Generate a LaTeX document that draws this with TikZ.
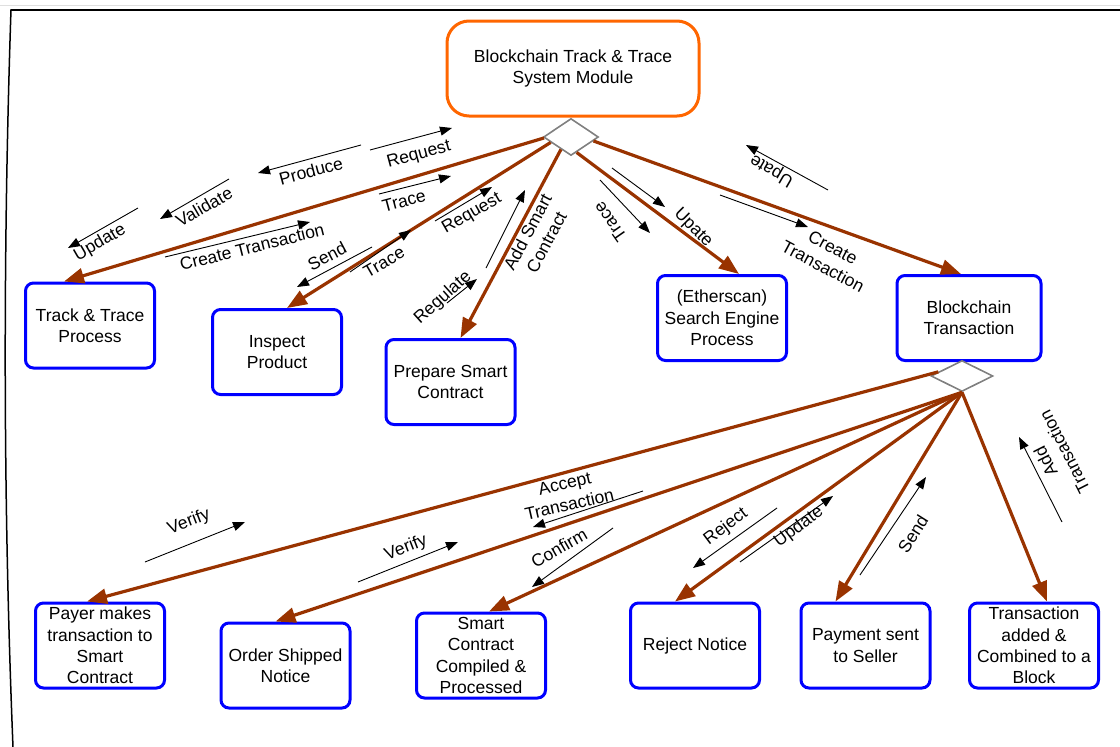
\documentclass[tikz,border=0pt]{standalone}
\usepackage{fontspec}
\setmainfont{Liberation Sans}
\usetikzlibrary{arrows.meta,shapes.geometric,calc}
\definecolor{flowc}{RGB}{153,51,0}
\definecolor{boxblue}{RGB}{0,0,255}
\definecolor{orangec}{RGB}{255,102,0}
\begin{document}
\begin{tikzpicture}[x=1pt,y=-1pt,
  every node/.style={font=\fontsize{17.5}{21.3}\selectfont},
  box/.style={draw=boxblue, line width=3pt, rounded corners=8pt, minimum width=129pt, minimum height=85pt, align=center, inner sep=0pt, fill=white},
  topbox/.style={draw=orangec, line width=3pt, rounded corners=22pt, minimum width=252pt, minimum height=95pt, align=center, inner sep=0pt, fill=white},
  dia/.style={diamond, draw=gray, line width=1.6pt, inner sep=0pt, fill=white},
  flow/.style={draw=flowc, line width=3.2pt, -{Triangle[length=20pt,width=15pt]}},
  lab/.style={line width=0.9pt, -{Triangle[length=12pt,width=9pt]}},
  lbl/.style={inner sep=0pt, align=center},
]
\useasboundingbox (0,0) rectangle (1120,747);
% frame
\draw[gray!25, line width=1pt] (0,5) -- (1120,5);
\draw[line width=2pt] (11,9.5) -- (1120,9.5);
\draw[line width=1.5pt] (11,9.5) .. controls (3,250) and (3,500) .. (13,747);

% nodes
\node[topbox] (top) at (573,68.5) {Blockchain Track \& Trace\\System Module};
\node[dia, minimum width=55pt, minimum height=37pt] (d1) at (571,137) {};
\node[box] (tt) at (90,325.5) {Track \& Trace\\Process};
\node[box] (ip) at (277,352) {Inspect\\Product};
\node[box] (ps) at (450.5,382) {Prepare Smart\\Contract};
\node[box] (es) at (722,318) {(Etherscan)\\Search Engine\\Process};
\node[box, minimum width=144pt] (bt) at (969,318) {Blockchain\\Transaction};
\node[dia, minimum width=62pt, minimum height=31pt] (d2) at (962,376) {};
\node[box] (pm) at (100,645.5) {Payer makes\\transaction to\\Smart\\Contract};
\node[box] (os) at (285.5,665.5) {Order Shipped\\Notice};
\node[box] (sc) at (481,655.5) {Smart\\Contract\\Compiled \&\\Processed};
\node[box] (rn) at (695,645.5) {Reject Notice};
\node[box] (pay) at (865.5,645.5) {Payment sent\\to Seller};
\node[box] (ta) at (1034,645.5) {Transaction\\added \&\\Combined to a\\Block};

% main flows
\draw[flow] (d1.182) -- ([xshift=-26pt]tt.north);
\draw[flow] (d1.195) -- ([xshift=10pt]ip.north);
\draw[flow] (d1.231) -- ([xshift=10pt]ps.north);
\draw[flow] (d1.290) -- ([xshift=17pt]es.north);
\draw[flow] (d1.350) -- ([xshift=-8pt]bt.north);
\draw[flow] (d2.170) -- ([xshift=-13pt]pm.north);
\draw[flow] (d2.south) -- ([xshift=-10pt]os.north);
\draw[flow] (d2.south) -- ([xshift=8pt]sc.north);
\draw[flow] (d2.south) -- ([xshift=-20pt]rn.north);
\draw[flow] (d2.south) -- ([xshift=-30pt]pay.north);
\draw[flow] (d2.south) -- ([xshift=13pt]ta.north);

% label arrow end points
\coordinate (a1s) at (138,208);  \coordinate (a1e) at (68,248);
\coordinate (a2s) at (229,179);  \coordinate (a2e) at (160,219);
\coordinate (a3s) at (361,145);  \coordinate (a3e) at (258,173);
\coordinate (a4s) at (370,150);  \coordinate (a4e) at (452,128);
\coordinate (a5s) at (379,194);  \coordinate (a5e) at (451,176);
\coordinate (a6s) at (165,257);  \coordinate (a6e) at (310,222);
\coordinate (a7s) at (372,247);  \coordinate (a7e) at (297,287);
\coordinate (a8s) at (350,272);  \coordinate (a8e) at (411,230);
\coordinate (a9s) at (435,221);  \coordinate (a9e) at (492,187);
\coordinate (a10s) at (486,268); \coordinate (a10e) at (525,190);
\coordinate (a11s) at (447,303); \coordinate (a11e) at (477,279);
\coordinate (a12s) at (600,180); \coordinate (a12e) at (650,233);
\coordinate (a13s) at (612,168); \coordinate (a13e) at (665,207);
\coordinate (a14s) at (828,190); \coordinate (a14e) at (746,145);
\coordinate (a15s) at (720,195); \coordinate (a15e) at (808,227);
\coordinate (b1s) at (145,562);  \coordinate (b1e) at (245,522);
\coordinate (b2s) at (358,582);  \coordinate (b2e) at (458,542);
\coordinate (b3s) at (643,491);  \coordinate (b3e) at (533,527);
\coordinate (b4s) at (613,528);  \coordinate (b4e) at (532,587);
\coordinate (b5s) at (777,508);  \coordinate (b5e) at (693,568);
\coordinate (b6s) at (740,562);  \coordinate (b6e) at (833,496);
\coordinate (b7s) at (860,575);  \coordinate (b7e) at (926,477);
\coordinate (b8s) at (1062,522); \coordinate (b8e) at (1019,437);

\foreach \p in {a1,a2,a3,a4,a5,a6,a7,a8,a9,a10,a11,a12,a13,a14,a15,b1,b2,b3,b4,b5,b6,b7,b8}
  \draw[lab] (\p s) -- (\p e);

% labels
\node[lbl, rotate=30] (l1) at (100,243) {Update};
\node[lbl, rotate=30] (l2) at (204,207) {Validate};
\node[lbl, rotate=15] (l3) at (311,171) {Produce};
\node[lbl, rotate=15] (l4) at (419,155) {Request};
\node[lbl, rotate=15] (l5) at (404,201) {Trace};
\node[lbl, rotate=14] (l6) at (252,247) {Create Transaction};
\node[lbl, rotate=28] (l7) at (327,256) {Send};
\node[lbl, rotate=30] (l8) at (384,262) {Trace};
\node[lbl, rotate=30] (l9) at (472,214) {Request};
\node[lbl, rotate=62] (l10) at (537,237) {Add Smart\\Contract};
\node[lbl, rotate=42] (l11) at (443,298) {Regulate};
\node[lbl, rotate=125] (l12) at (610,222) {Trace};
\node[lbl, rotate=-45] (l13) at (693,228) {Upate};
\node[lbl, rotate=150] (l14) at (772,170) {Upate};
\node[lbl, rotate=-28] (l15) at (828,257) {Create\\Transaction};
\node[lbl, rotate=21] (m1) at (189,522) {Verify};
\node[lbl, rotate=21] (m2) at (406,548) {Verify};
\node[lbl, rotate=13] (m3) at (567,494) {Accept\\Transaction};
\node[lbl, rotate=30] (m4) at (559,548) {Confirm};
\node[lbl, rotate=37] (m5) at (726,527) {Reject};
\node[lbl, rotate=37] (m6) at (799,527) {Update};
\node[lbl, rotate=58] (m7) at (913,534) {Send};
\node[lbl, rotate=117] (m8) at (1055,457) {Add\\Transaction};
\end{tikzpicture}
\end{document}
